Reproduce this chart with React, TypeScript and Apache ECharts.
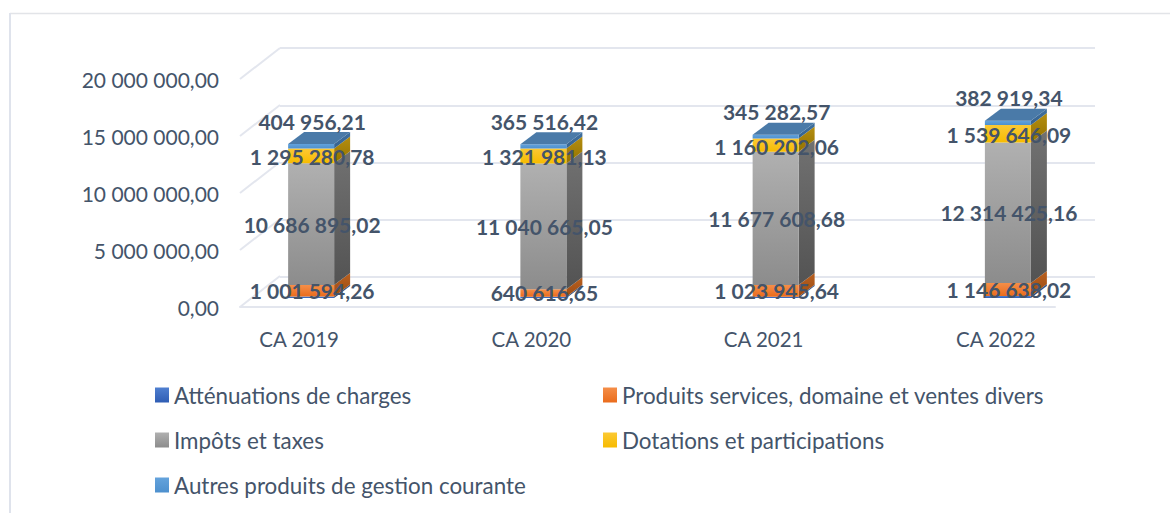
import React, { useEffect, useRef } from "react";
import * as echarts from "echarts";

const categories = ["CA 2019", "CA 2020", "CA 2021", "CA 2022"];
const seriesNames = [
  "Atténuations de charges",
  "Produits services, domaine et ventes divers",
  "Impôts et taxes",
  "Dotations et participations",
  "Autres produits de gestion courante",
];
const attenuations = [130000, 120000, 120000, 170000];
const produits = [1001594.26, 640616.65, 1023945.64, 1146638.02];
const impots = [10686895.02, 11040665.05, 11677608.68, 12314425.16];
const dotations = [1295280.78, 1321981.13, 1160202.06, 1539646.09];
const autres = [404956.21, 365516.42, 345282.57, 382919.34];
const yTicks = [0, 5000000, 10000000, 15000000, 20000000];

const INK = "#44546a";
const GRID = "#e3e6ee";
const FONT = "Lato, 'Open Sans', sans-serif";

const vGrad = (a: string, b: string) => ({
  type: "linear", x: 0, y: 0, x2: 0, y2: 1,
  colorStops: [{ offset: 0, color: a }, { offset: 1, color: b }],
});

const styles = [
  { front: vGrad("#4f7fd0", "#2f5db4"), side: vGrad("#35588f", "#2a4a7c"), dy: 0, label: false },
  { front: vGrad("#f58e48", "#ea6c1c"), side: vGrad("#b9601f", "#9c4c14"), dy: 0, label: true },
  { front: vGrad("#b0b0b0", "#8c8c8c"), side: vGrad("#717171", "#535353"), dy: 0, label: true },
  { front: vGrad("#fbc935", "#f7bb00"), side: vGrad("#b48e10", "#957200"), dy: 1, label: true },
  { front: vGrad("#64a3dc", "#4d90ce"), side: vGrad("#3f709f", "#356290"), dy: -25, label: true },
];

const fmt = (v: number) => {
  const [i, d] = v.toFixed(2).split(".");
  return i.replace(/\B(?=(\d{3})+(?!\d))/g, " ") + "," + d;
};

const DEPTH_X = 16, DEPTH_Y = -12, OFF_X = 12, OFF_Y = -9, BAR_W = 46;

function makeBarSeries(idx: number, values: number[], below: number[]) {
  const s = styles[idx];
  return {
    type: "custom",
    name: seriesNames[idx],
    xAxisIndex: 2, yAxisIndex: 2,
    itemStyle: { color: s.front },
    data: values.map((v, i) => [i, below[i], below[i] + v, v]),
    encode: { x: 0, y: [1, 2] },
    renderItem: (_: any, api: any) => {
      const c0 = api.coord([api.value(0), api.value(1)]);
      const c1 = api.coord([api.value(0), api.value(2)]);
      const x0 = c0[0] + OFF_X - BAR_W / 2, x1 = x0 + BAR_W;
      const yB = c0[1] + OFF_Y, yT = c1[1] + OFF_Y;
      const children: any[] = [
        { type: "polygon", shape: { points: [[x1, yT], [x1 + DEPTH_X, yT + DEPTH_Y], [x1 + DEPTH_X, yB + DEPTH_Y], [x1, yB]] }, style: { fill: s.side } },
        { type: "rect", shape: { x: x0, y: yT, width: BAR_W, height: yB - yT }, style: { fill: s.front } },
      ];
      if (idx === styles.length - 1) {
        children.push({ type: "polygon", shape: { points: [[x0, yT], [x0 + DEPTH_X, yT + DEPTH_Y], [x1 + DEPTH_X, yT + DEPTH_Y], [x1, yT]] }, style: { fill: "#4a7aa8" } });
      }
      if (s.label) {
        children.push({
          type: "text", z2: 100,
          style: {
            text: fmt(api.value(3)), x: (x0 + x1) / 2 + 1, y: (yB + yT) / 2 + s.dy,
            align: "center", verticalAlign: "middle",
            fill: INK, font: `bold 21px ${FONT}`,
          },
        });
      }
      return { type: "group", children };
    },
  };
}

export default function App() {
  const ref = useRef<HTMLDivElement>(null);
  useEffect(() => {
    const chart = echarts.init(ref.current!, undefined, { renderer: "svg" });
    const stacks = [attenuations, produits, impots, dotations, autres];
    const below = categories.map(() => 0);
    const bars = stacks.map((vals, idx) => {
      const s = makeBarSeries(idx, vals, below.slice());
      vals.forEach((v, i) => (below[i] += v));
      return s;
    });
    const yBase = { type: "value", min: 0, max: 20000000, interval: 5000000 };
    const legendBase = {
      orient: "vertical", itemWidth: 14, itemHeight: 15, itemGap: 21, icon: "rect",
      textStyle: { color: INK, fontFamily: FONT, fontSize: 22.4, lineHeight: 24, padding: [0, 0, 0, 0] },
      padding: 0,
    };
    chart.setOption({
      animation: false,
      backgroundColor: "#ffffff",
      grid: [
        { left: 280, top: 48, width: 815, height: 229 },
        { left: 240, top: 79, width: 815, height: 228 },
        { left: 183, top: 79, width: 929, height: 228 },
      ],
      xAxis: [
        { type: "category", gridIndex: 0, data: categories, show: false },
        {
          type: "category", gridIndex: 1, data: categories,
          axisLine: { show: true, lineStyle: { color: GRID, width: 2 } },
          axisTick: { show: false }, axisLabel: { show: false },
        },
        {
          type: "category", gridIndex: 2, data: categories,
          axisLine: { show: false }, axisTick: { show: false },
          axisLabel: { color: INK, fontFamily: FONT, fontSize: 20.5, margin: 21 },
        },
      ],
      yAxis: [
        {
          ...yBase, gridIndex: 0,
          axisLine: { show: false }, axisTick: { show: false }, axisLabel: { show: false },
          splitLine: { show: true, lineStyle: { color: GRID, width: 2 } },
        },
        {
          ...yBase, gridIndex: 1,
          axisLine: { show: false }, axisTick: { show: false }, splitLine: { show: false },
          axisLabel: { color: INK, fontFamily: FONT, fontSize: 21, margin: 21, padding: [2, 0, 0, 0], formatter: (v: number) => fmt(v) },
        },
        { ...yBase, gridIndex: 2, show: false },
      ],
      legend: [
        { ...legendBase, left: 155, top: 383, data: [seriesNames[0], seriesNames[2], seriesNames[4]] },
        { ...legendBase, left: 603, top: 383, data: [seriesNames[1], seriesNames[3]] },
      ],
      graphic: [
        { type: "line", shape: { x1: 10, y1: 13.5, x2: 1170, y2: 13.5 }, style: { stroke: "#e2e4e8", lineWidth: 1.5 } },
        { type: "line", shape: { x1: 10, y1: 13, x2: 10, y2: 513 }, style: { stroke: "#dfe3ec", lineWidth: 2 } },
      ],
      series: [
        {
          type: "custom", xAxisIndex: 1, yAxisIndex: 1, silent: true,
          data: yTicks.map((v) => [0, v]),
          renderItem: (params: any, api: any) => {
            const y = api.coord([0, api.value(1)])[1];
            const x = params.coordSys.x;
            return {
              type: "line",
              shape: { x1: x, y1: y, x2: x + 40, y2: y - 31 },
              style: { stroke: GRID, lineWidth: 2 },
            };
          },
        },
        ...bars,
      ],
    });
    return () => chart.dispose();
  }, []);
  return <div ref={ref} style={{ position: "fixed", left: 0, top: 0, width: 1170, height: 513 }} />;
}
